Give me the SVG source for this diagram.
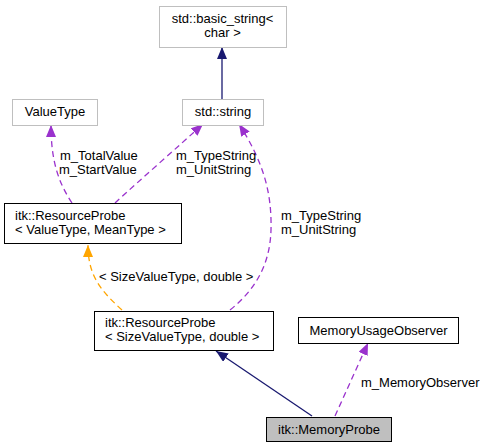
<svg xmlns="http://www.w3.org/2000/svg" width="484" height="448" viewBox="0 0 484 448">
<style>
text{font-family:"Liberation Sans",Arial,Helvetica,sans-serif;font-size:13px;fill:#000}
.c{text-anchor:middle}
.box{fill:#fff;stroke:#000;stroke-width:1}
.gbox{fill:#fff;stroke:#bfbfbf;stroke-width:1}
.self{fill:#bfbfbf;stroke:#000;stroke-width:1}
.e{fill:none;stroke-width:1.3}
.inh{stroke:#191970}
.use{stroke:#9a32cd;stroke-dasharray:6,4}
.tpl{stroke:#ffa500;stroke-dasharray:6,4}
</style>
<defs>
<marker id="aNavy" viewBox="0 0 12 10" refX="12" refY="5" markerWidth="12" markerHeight="10" markerUnits="userSpaceOnUse" orient="auto"><path d="M0,0 L12,5 L0,10 Z" fill="#191970"/></marker>
<marker id="aPurple" viewBox="0 0 12 10" refX="12" refY="5" markerWidth="12" markerHeight="10" markerUnits="userSpaceOnUse" orient="auto"><path d="M0,0 L12,5 L0,10 Z" fill="#9a32cd"/></marker>
<marker id="aOrange" viewBox="0 0 12 10" refX="12" refY="5" markerWidth="12" markerHeight="10" markerUnits="userSpaceOnUse" orient="auto"><path d="M0,0 L12,5 L0,10 Z" fill="#ffa500"/></marker>
</defs>
<rect width="484" height="448" fill="#fff"/>
<g id="connectors">
<path class="e inh" d="M222,99 L222,47" marker-end="url(#aNavy)"/>
<path class="e use" d="M72,203 C58,182 51,160 51,125" marker-end="url(#aPurple)"/>
<path class="e use" d="M115,203 C140,180 180,145 203,124" marker-end="url(#aPurple)"/>
<path class="e use" d="M230,310 C255,290 270,265 271,230 C272,190 262,160 239,124" marker-end="url(#aPurple)"/>
<path class="e tpl" d="M122,310 C100,290 88,275 88,245" marker-end="url(#aOrange)"/>
<path class="e inh" d="M312,416 L216,351" marker-end="url(#aNavy)"/>
<path class="e use" d="M335,416 L368,343" marker-end="url(#aPurple)"/>
<text x="60" y="160">m_TotalValue</text>
<text x="59" y="174">m_StartValue</text>
<text x="176" y="160">m_TypeString</text>
<text x="176" y="174">m_UnitString</text>
<text x="281" y="220">m_TypeString</text>
<text x="281" y="234">m_UnitString</text>
<text x="99" y="281">&lt; SizeValueType, double &gt;</text>
<text x="361" y="387">m_MemoryObserver</text>
</g>
<g id="basic_string">
<rect class="gbox" x="159.5" y="6.5" width="127" height="41"/>
<text class="c" x="222.5" y="23">std::basic_string&lt;</text>
<text class="c" x="222.5" y="37">char &gt;</text>
</g>
<g id="ValueType">
<rect class="gbox" x="12.5" y="99.5" width="85" height="26"/>
<text class="c" x="55" y="116">ValueType</text>
</g>
<g id="std_string">
<rect class="gbox" x="182.5" y="99.5" width="81" height="26"/>
<text class="c" x="223" y="116">std::string</text>
</g>
<g id="ResourceProbe_VT_MT">
<rect class="box" x="4.5" y="203.5" width="177" height="40"/>
<text x="15" y="220">itk::ResourceProbe</text>
<text x="15" y="234">&lt; ValueType, MeanType &gt;</text>
</g>
<g id="ResourceProbe_SVT_double">
<rect class="box" x="94.5" y="311.5" width="179" height="39"/>
<text x="105" y="327">itk::ResourceProbe</text>
<text x="105" y="341">&lt; SizeValueType, double &gt;</text>
</g>
<g id="MemoryUsageObserver">
<rect class="box" x="298.5" y="317.5" width="160" height="26"/>
<text class="c" x="378.5" y="335">MemoryUsageObserver</text>
</g>
<g id="MemoryProbe">
<rect class="self" x="266.5" y="417.5" width="125" height="24"/>
<text class="c" x="329" y="434">itk::MemoryProbe</text>
</g>
</svg>
